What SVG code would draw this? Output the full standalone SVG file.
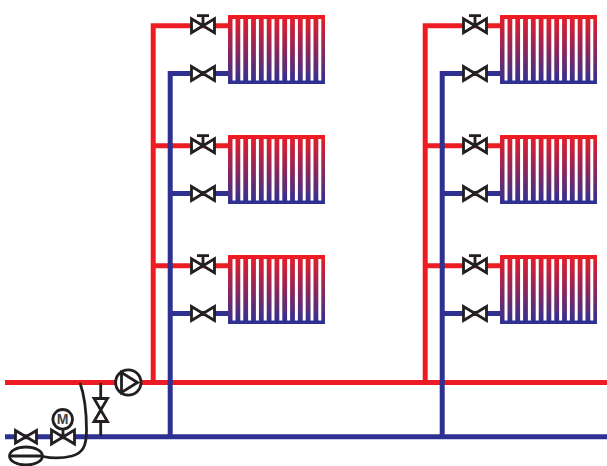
<svg xmlns="http://www.w3.org/2000/svg" width="607" height="466" viewBox="0 0 607 466">
<style>
.r{fill:none;stroke:#ed1c24;stroke-width:5}
.b{fill:none;stroke:#2e3192;stroke-width:5}
.k{fill:none;stroke:#231f20;stroke-width:2.8}
.v{fill:#fff;stroke:#231f20;stroke-width:2.8}
.s{fill:#fff}
</style>
<defs>
<linearGradient id="g" x1="0" y1="0" x2="0" y2="1"><stop offset="0" stop-color="#ed1c24"/><stop offset="1" stop-color="#2e3192"/></linearGradient>
<g id="rad">
<rect x="228" y="15" width="97" height="69" fill="url(#g)"/>
<rect x="228" y="15" width="97" height="4" fill="#ed1c24"/>
<rect x="228" y="80.5" width="97" height="3.5" fill="#2e3192"/>
<g class="s">
<rect x="232.5" y="19" width="3" height="61.5"/><rect x="240.3" y="19" width="3" height="61.5"/><rect x="248.1" y="19" width="3" height="61.5"/><rect x="255.9" y="19" width="3" height="61.5"/><rect x="263.7" y="19" width="3" height="61.5"/><rect x="271.5" y="19" width="3" height="61.5"/><rect x="279.3" y="19" width="3" height="61.5"/><rect x="287.1" y="19" width="3" height="61.5"/><rect x="294.9" y="19" width="3" height="61.5"/><rect x="302.7" y="19" width="3" height="61.5"/><rect x="310.5" y="19" width="3" height="61.5"/><rect x="318.3" y="19" width="3" height="61.5"/>
</g>
</g>
<path id="valve" class="v" d="M-11.5-7V7L11.5-7V7Z"/>
<g id="valveT"><path class="k" d="M0 0V-10M-6-10H6"/><use href="#valve"/></g>
</defs>
<g id="connectors">
<path class="r" d="M5 382.5H607"/>
<path class="b" d="M5 436.7H607"/>
<path class="r" d="M153.2 382.5V25.7H228M153.2 145.7H228M153.2 265.7H228"/>
<path class="b" d="M170.2 436.7V73.5H228M170.2 193.5H228M170.2 313.5H228"/>
<path class="r" d="M425.2 382.5V25.7H500M425.2 145.7H500M425.2 265.7H500"/>
<path class="b" d="M442.2 436.7V73.5H500M442.2 193.5H500M442.2 313.5H500"/>
<path class="k" d="M80 383C84 394 86.500 410 86.500 430C86.500 446 83 453 72 456C62 458.500 52 458.500 43 456.500"/>
<path class="k" d="M100.700 383V436"/>
</g>
<g id="rad-1-1"><use href="#rad"/></g>
<g id="rad-1-2"><use href="#rad" y="120"/></g>
<g id="rad-1-3"><use href="#rad" y="240"/></g>
<g id="rad-2-1"><use href="#rad" x="272"/></g>
<g id="rad-2-2"><use href="#rad" x="272" y="120"/></g>
<g id="rad-2-3"><use href="#rad" x="272" y="240"/></g>
<g id="valves-1">
<use href="#valveT" x="203" y="25.700"/><use href="#valve" x="203" y="73.500"/>
<use href="#valveT" x="203" y="145.700"/><use href="#valve" x="203" y="193.500"/>
<use href="#valveT" x="203" y="265.700"/><use href="#valve" x="203" y="313.500"/>
</g>
<g id="valves-2">
<use href="#valveT" x="475" y="25.700"/><use href="#valve" x="475" y="73.500"/>
<use href="#valveT" x="475" y="145.700"/><use href="#valve" x="475" y="193.500"/>
<use href="#valveT" x="475" y="265.700"/><use href="#valve" x="475" y="313.500"/>
</g>
<g id="pump">
<circle cx="128.300" cy="382.500" r="12.700" class="v"/>
<path class="k" d="M121.500 372.500V392.500L137.500 382.500Z"/>
</g>
<g id="bypass-valve"><path class="v" d="M94 398.500H107.500L94 421.500H107.500Z"/></g>
<g id="motor-valve">
<use href="#valve" x="63" y="437"/>
<path class="k" d="M63 437V429"/>
<circle cx="62.700" cy="419.300" r="9.800" class="v"/>
<text x="62.700" y="424.300" text-anchor="middle" font-family="Liberation Sans, Arial, sans-serif" font-size="14" font-weight="700" fill="#414042">M</text>
</g>
<g id="valve-left"><path class="v" d="M15.500 430.500V443L36.500 430.500V443Z"/></g>
<g id="tank">
<ellipse cx="26" cy="456" rx="16.500" ry="9" class="v"/>
<path class="k" d="M9 456H43"/>
</g>
</svg>
